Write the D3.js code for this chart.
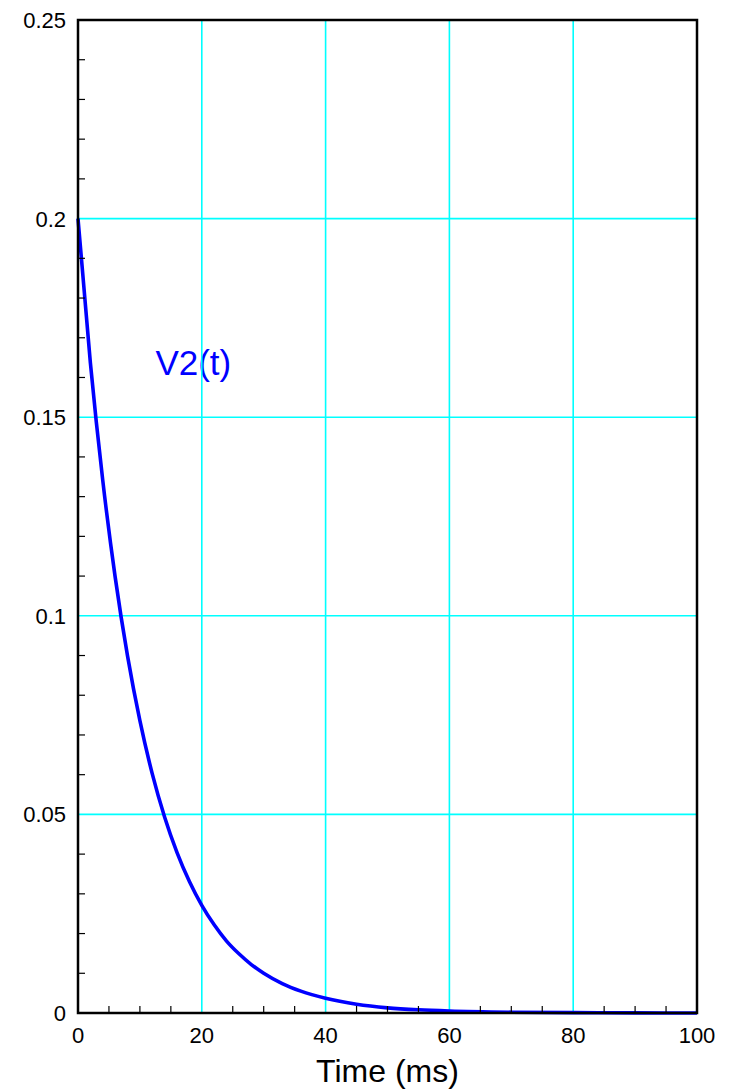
<!DOCTYPE html>
<html>
<head>
<meta charset="utf-8">
<script src="https://cdn.jsdelivr.net/npm/d3@7"></script>
<style>
  body { margin: 0; background: #fff; }
  svg { display: block; font-family: "Liberation Sans", Arial, Helvetica, sans-serif; }
</style>
</head>
<body>
<svg id="chart" width="729" height="1091"></svg>
<script>
// data: V2(t) in volts vs time in ms
const timeMs = [0, 2, 4, 6, 8, 10, 12, 14, 16, 18, 20, 22, 24, 26, 28, 30, 33, 36, 40, 45, 50, 55, 60, 70, 80, 90, 100];
const v2 = [0.2, 0.1637, 0.1341, 0.1098, 0.0899, 0.0736, 0.0602, 0.0493, 0.0404, 0.0331, 0.0271, 0.0222, 0.0181,
  0.0149, 0.0122, 0.0100, 0.0074, 0.0055, 0.0037, 0.0022, 0.0013, 0.0008, 0.0005, 0.0002, 0.0001, 0.00002, 0.00001];
const xTicks = [0, 20, 40, 60, 80, 100];
const yTicks = [0, 0.05, 0.1, 0.15, 0.2, 0.25];
const xMinor = d3.range(0, 101, 5);
const yMinor = d3.range(0, 0.2501, 0.01);
const seriesLabel = "V2(t)";
const xTitle = "Time (ms)";

const margin = { top: 20, right: 32, bottom: 78, left: 78 };
const width = 729 - margin.left - margin.right;
const height = 1091 - margin.top - margin.bottom;

const svg = d3.select("#chart");
const g = svg.append("g").attr("transform", `translate(${margin.left},${margin.top})`);

const x = d3.scaleLinear().domain([0, 100]).range([0, width]);
const y = d3.scaleLinear().domain([0, 0.25]).range([height, 0]);

// series label (grid lines pass over it)
g.append("text")
  .attr("x", x(12.5))
  .attr("y", y(0.1605))
  .attr("fill", "#0000ff")
  .attr("font-size", 35)
  .text(seriesLabel);

// grid
g.append("g").selectAll("line").data(xTicks.slice(1, -1)).join("line")
  .attr("x1", d => x(d)).attr("x2", d => x(d))
  .attr("y1", 0).attr("y2", height)
  .attr("stroke", "#00ffff").attr("stroke-width", 1.6);
g.append("g").selectAll("line").data(yTicks.slice(1, -1)).join("line")
  .attr("x1", 0).attr("x2", width)
  .attr("y1", d => y(d)).attr("y2", d => y(d))
  .attr("stroke", "#00ffff").attr("stroke-width", 1.6);

// curve
const pts = timeMs.map((t, i) => ({ t, v: v2[i] }));
g.append("path")
  .datum(pts)
  .attr("fill", "none")
  .attr("stroke", "#0000ff")
  .attr("stroke-width", 3.6)
  .attr("d", d3.line().x(d => x(d.t)).y(d => y(d.v)).curve(d3.curveMonotoneX));

// minor ticks, inward
g.append("g").selectAll("line").data(xMinor.filter(d => d % 20 !== 0)).join("line")
  .attr("x1", d => x(d)).attr("x2", d => x(d))
  .attr("y1", height).attr("y2", height - 7)
  .attr("stroke", "#000").attr("stroke-width", 1.2);
g.append("g").selectAll("line").data(yMinor.filter(d => Math.abs(d / 0.05 - Math.round(d / 0.05)) > 1e-6)).join("line")
  .attr("x1", 0).attr("x2", 7)
  .attr("y1", d => y(d)).attr("y2", d => y(d))
  .attr("stroke", "#000").attr("stroke-width", 1.2);

// frame
g.append("rect")
  .attr("width", width).attr("height", height)
  .attr("fill", "none").attr("stroke", "#000").attr("stroke-width", 2.5);

// tick labels
g.append("g").selectAll("text").data(xTicks).join("text")
  .attr("x", d => x(d)).attr("y", height + 30)
  .attr("text-anchor", "middle").attr("font-size", 22)
  .text(d => d);
g.append("g").selectAll("text").data(yTicks).join("text")
  .attr("x", -12).attr("y", d => y(d) + 8)
  .attr("text-anchor", "end").attr("font-size", 22)
  .text(d => d);

// axis title
g.append("text")
  .attr("x", width / 2).attr("y", height + 69)
  .attr("text-anchor", "middle").attr("font-size", 32)
  .text(xTitle);
</script>
</body>
</html>
